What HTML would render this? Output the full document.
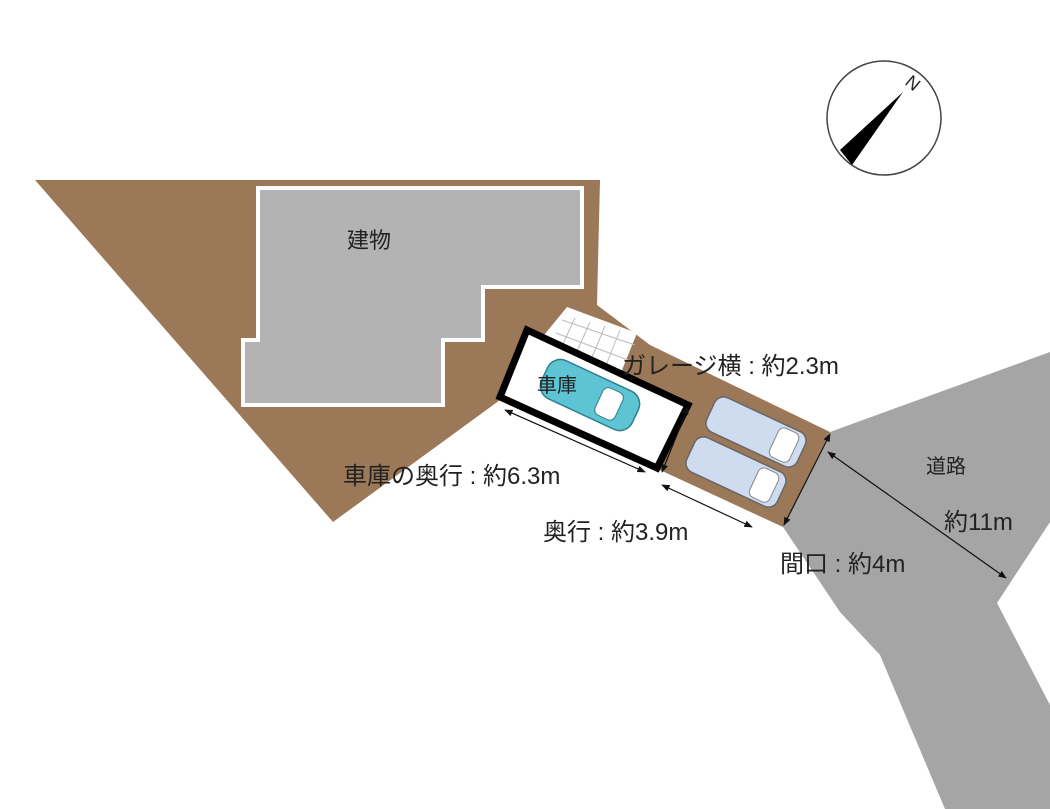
<!DOCTYPE html>
<html><head><meta charset="utf-8"><style>
html,body{margin:0;padding:0;background:#fff}
svg{display:block}
text{font-family:"Liberation Sans","Noto Sans CJK JP",sans-serif;fill:#222}
</style></head><body>
<svg width="1050" height="809" viewBox="0 0 1050 809" xmlns="http://www.w3.org/2000/svg">
<defs>
<marker id="a" viewBox="0 0 10 10" refX="9" refY="5" markerWidth="7" markerHeight="7" orient="auto-start-reverse"><path d="M0,1 L10,5 L0,9 z" fill="#111"/></marker>
</defs>
<polygon points="830,432 1050,352 1050,522 997,603 1050,705 1050,809 945,809 880,655 840,612 783,527" fill="#a5a5a5"/>
<polygon points="35,180 600,180 597,305 650,345 830,432 783,527 660,470 500,400 333,522" fill="#9b7858"/>
<polygon points="567,307 637,333 620,375 540,340" fill="#fff"/>
<g stroke="#bbb" stroke-width="1">
<line x1="575" y1="318" x2="560" y2="350"/><line x1="590" y1="322" x2="575" y2="356"/><line x1="605" y1="326" x2="590" y2="362"/><line x1="620" y1="330" x2="605" y2="368"/>
<line x1="562" y1="320" x2="635" y2="345"/><line x1="556" y1="333" x2="628" y2="360"/>
</g>
<polygon points="258,188 582,188 582,287 483,287 483,340 443,340 443,405 243,405 243,340 258,340" fill="#b3b3b3" stroke="#fff" stroke-width="4"/>
<polygon points="527,330 688,405 657,468 500,397" fill="#fff" stroke="#000" stroke-width="7" stroke-linejoin="miter"/>
<g transform="translate(590,395) rotate(25)">
<rect x="-50" y="-21" width="100" height="42" rx="14" fill="#5ec3d3" stroke="#2a7f8e" stroke-width="1.5"/>
<rect x="10" y="-15" width="22" height="30" rx="6" fill="#fff" stroke="#2a7f8e"/>
</g>
<g transform="translate(756,432) rotate(25)">
<rect x="-50" y="-19" width="100" height="38" rx="10" fill="#cfdcf0" stroke="#666" stroke-width="1.5"/>
<rect x="20" y="-16" width="22" height="32" rx="6" fill="#fff" stroke="#888"/>
</g>
<g transform="translate(736,472) rotate(25)">
<rect x="-50" y="-19" width="100" height="38" rx="10" fill="#cfdcf0" stroke="#666" stroke-width="1.5"/>
<rect x="20" y="-16" width="22" height="32" rx="6" fill="#fff" stroke="#888"/>
</g>
<g stroke="#111" stroke-width="1.2" marker-start="url(#a)" marker-end="url(#a)">
<line x1="505" y1="410" x2="645" y2="472"/>
<line x1="662" y1="485" x2="752" y2="527"/>
<line x1="688" y1="407" x2="662" y2="472"/>
<line x1="830" y1="434" x2="784" y2="525"/>
<line x1="828" y1="452" x2="1006" y2="578"/>
</g>
<circle cx="884" cy="118" r="57" fill="#fff" stroke="#444" stroke-width="1.5"/>
<polygon points="903,92 840,150 852,165" fill="#000"/>
<text x="906" y="90" font-size="18" transform="rotate(40 914 84)">N</text>
<text x="347" y="248" font-size="22">建物</text>
<text x="537" y="392" font-size="20">車庫</text>
<text x="622" y="374" font-size="24">ガレージ横 : 約2.3m</text>
<text x="343" y="484" font-size="24">車庫の奥行 : 約6.3m</text>
<text x="543" y="540" font-size="24">奥行 : 約3.9m</text>
<text x="780" y="572" font-size="24">間口 : 約4m</text>
<text x="926" y="473" font-size="20">道路</text>
<text x="944" y="530" font-size="24">約11m</text>
</svg>
</body></html>
